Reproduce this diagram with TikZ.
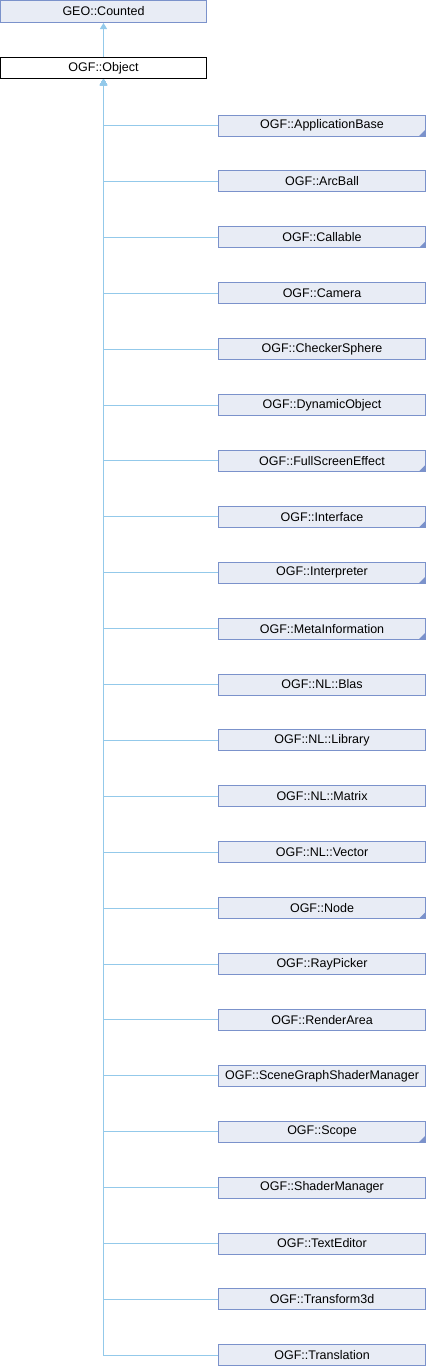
\documentclass[tikz,border=0pt]{standalone}
\usepackage{fontspec}
\setmainfont{Liberation Sans}
\usetikzlibrary{arrows.meta}
\definecolor{boxfill}{HTML}{E8ECF5}
\definecolor{boxdraw}{HTML}{7B92CB}
\definecolor{linec}{HTML}{93C9EA}
\tikzset{
  cls/.style={draw=boxdraw, fill=boxfill, line width=1pt, minimum width=207pt, minimum height=21pt, inner sep=0pt, font=\fontsize{12.5}{14}\selectfont},
  rootcls/.style={cls, minimum width=206pt},
  conn/.style={draw=linec, line width=1pt, -{Triangle[length=6pt,width=7pt,fill=linec]}},
}
\newcommand{\cornermark}[1]{\fill[boxdraw] ([xshift=-7pt,yshift=0.5pt]#1.south east) -- ([xshift=-0.5pt,yshift=0.5pt]#1.south east) -- ([xshift=-0.5pt,yshift=7pt]#1.south east) -- cycle;}
\begin{document}
\begin{tikzpicture}[x=1pt,y=-1pt]
\useasboundingbox (0,0) rectangle (426,1368);
\node[rootcls, minimum height=22pt] (geo) at (103.5,11.5) {GEO::Counted};
\node[rootcls, draw=black, fill=white] (obj) at (103.5,68) {OGF::Object};
\draw[conn] (obj.north) -- (geo.south);
\foreach \n/\t [count=\i from 0] in {
  c0/OGF::ApplicationBase, c1/OGF::ArcBall, c2/OGF::Callable, c3/OGF::Camera,
  c4/OGF::CheckerSphere, c5/OGF::DynamicObject, c6/OGF::FullScreenEffect,
  c7/OGF::Interface, c8/OGF::Interpreter, c9/OGF::MetaInformation,
  c10/OGF::NL::Blas, c11/OGF::NL::Library, c12/OGF::NL::Matrix,
  c13/OGF::NL::Vector, c14/OGF::Node, c15/OGF::RayPicker, c16/OGF::RenderArea,
  c17/OGF::SceneGraphShaderManager, c18/OGF::Scope, c19/OGF::ShaderManager,
  c20/OGF::TextEditor, c21/OGF::Transform3d, c22/OGF::Translation} {
  \node[cls] (\n) at (322, {125.5 + \i*55.9}) {\t};
  \draw[conn] (\n.west) -| (obj.south);
}
\foreach \n in {c0,c2,c6,c7,c8,c9,c14,c18} {\cornermark{\n}}
\end{tikzpicture}
\end{document}
